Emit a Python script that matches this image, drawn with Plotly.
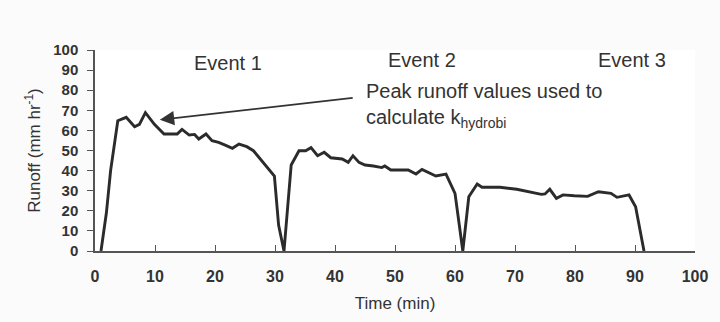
import plotly.graph_objects as go

time_min = [1.0, 1.9, 2.6, 3.8, 5.2, 6.6, 7.4, 8.4, 9.9, 11.5, 13.7, 14.5, 15.7, 16.6,
            17.3, 18.5, 19.5, 20.6, 21.7, 22.9, 24.0, 25.3, 26.4, 27.7, 28.8, 29.9,
            30.6, 31.5, 32.7, 34.0, 35.1, 36.0, 37.1, 38.2, 39.3, 41.2, 42.2, 43.0,
            44.0, 45.0, 46.4, 47.8, 48.3, 49.3, 52.2, 53.5, 54.5, 55.5, 56.8, 58.5,
            60.0, 61.3, 62.3, 63.7, 64.5, 65.9, 67.5, 70.3, 72.8, 74.4, 75.0, 75.8,
            76.9, 78.0, 79.9, 82.1, 83.9, 86.0, 87.0, 89.0, 90.1, 91.5]
runoff = [0, 19, 40, 64.8, 66.5, 61.8, 63, 68.8, 63, 58.2, 58.2, 60.5, 57.7, 58,
          55.7, 58.2, 54.9, 54, 52.7, 51.1, 53.2, 51.9, 49.9, 45.3, 41.6, 37.3,
          12.9, 0, 42.8, 49.9, 49.9, 51.4, 47.4, 49.1, 46.4, 45.8, 44.1, 47.4,
          44.1, 42.8, 42.3, 41.5, 42.3, 40.3, 40.3, 38.3, 40.6, 39, 37.3, 38.3,
          28.7, 0, 27, 33.3, 31.7, 31.7, 31.7, 30.7, 29.2, 28.2, 28.4, 30.7,
          26.2, 27.9, 27.5, 27.2, 29.5, 28.7, 26.7, 27.9, 22.0, 0]

event_labels = ["Event 1", "Event 2", "Event 3"]
event_x = [22.2, 54.5, 89.5]
event_y = [93.6, 94.8, 94.8]

tick_vals = list(range(0, 101, 10))

FONT = "Liberation Sans, Arial, sans-serif"
INK = "#333333"

fig = go.Figure()
fig.add_trace(go.Scatter(x=time_min, y=runoff, mode="lines",
                         line=dict(color="#2b2b2b", width=2.9),
                         showlegend=False, hoverinfo="skip"))

for lab, ex, ey in zip(event_labels, event_x, event_y):
    fig.add_annotation(x=ex, y=ey, xref="x", yref="y", text=lab, showarrow=False,
                       font=dict(family=FONT, size=20, color=INK))

# arrow
fig.add_annotation(x=10.8, y=65.3, ax=43.2, ay=76.3, xref="x", yref="y",
                   axref="x", ayref="y", text="", showarrow=True,
                   arrowhead=2, arrowsize=1.6, arrowwidth=1.8, arrowcolor="#333333")
fig.add_annotation(x=44.9, y=72.4, xref="x", yref="y", xanchor="left",
                   text="Peak runoff values used to<br>calculate k<sub>hydrobi</sub>",
                   showarrow=False, align="left",
                   font=dict(family=FONT, size=20, color=INK))

fig.update_layout(
    width=720, height=322,
    margin=dict(l=95, r=17, t=50, b=71),
    paper_bgcolor="#fbfbfb", plot_bgcolor="#ffffff",
    font=dict(family=FONT, color=INK),
)
fig.update_xaxes(range=[0, 100], tickvals=tick_vals, ticks="inside", ticklen=6,
                 tickcolor="#555", tickwidth=1.3, showline=True, linecolor="#555",
                 linewidth=1.5, showgrid=False, zeroline=False,
                 tickfont=dict(family=FONT, size=16, color=INK, weight=700),
                 ticklabelstandoff=10,
                 title=dict(text="Time (min)", font=dict(family=FONT, size=17, color=INK),
                            standoff=13))
fig.update_yaxes(range=[0, 100], tickvals=tick_vals, ticks="outside", ticklen=6,
                 tickcolor="#555", tickwidth=1.3, showline=True, linecolor="#555",
                 linewidth=1.5, showgrid=False, zeroline=False,
                 tickfont=dict(family=FONT, size=15, color=INK, weight=700),
                 ticklabelstandoff=6,
                 title=dict(text="Runoff (mm hr<sup>-1</sup>)",
                            font=dict(family=FONT, size=17, color=INK), standoff=8))

fig.write_html("out.html")
